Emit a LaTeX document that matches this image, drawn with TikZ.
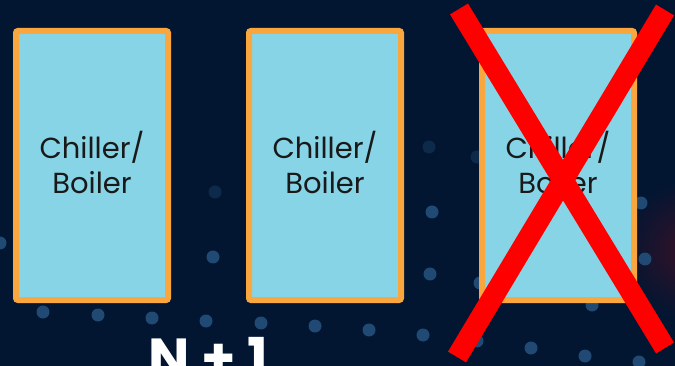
\documentclass[tikz,border=0pt]{standalone}
\usepackage{fontspec}
\setmainfont{Poppins}
\usetikzlibrary{shadings}
\definecolor{bgnavy}{HTML}{021632}
\definecolor{boxfill}{HTML}{87D4E6}
\definecolor{boxedge}{HTML}{F9A63E}
\definecolor{dotblue}{HTML}{204A73}
\definecolor{dotfaint}{HTML}{0E2A4A}
\definecolor{xred}{HTML}{FF0000}
\tikzset{
  unitbox/.style={draw=boxedge, fill=boxfill, line width=6pt, rounded corners=2pt,
    minimum width=152pt, minimum height=269pt, inner sep=0pt},
  unittext/.style={align=center, inner sep=0pt, text=black!90, font=\fontsize{29}{35}\selectfont},
  bgdot/.style={fill=dotblue},
  faintdot/.style={fill=dotfaint},
  crossline/.style={draw=xred, line width=21pt}
}
\begin{document}
\begin{tikzpicture}[x=1pt,y=-1pt]
\fill[bgnavy] (0,0) rectangle (675,366);
\useasboundingbox (0,0) rectangle (675,366);
% faint reddish glow at right
\shade[inner color=red!35!bgnavy, outer color=bgnavy, opacity=0.6] (690,250) circle (70);
% background dots
\foreach \x/\y in {43/312, 98/315, 152/318, 206/321, 261/323, 315/326, 369/330, 423/335, 477/341, 531/348, 585/356, 639/362,
  213/257, 432/212, 430/274, 641/203, 645/259, 480/283, 592/305, 0/243}
  \fill[bgdot] (\x,\y) circle (6.5);
\foreach \x/\y in {215/192, 429/147, 477/157}
  \fill[faintdot] (\x,\y) circle (6.5);
% units
\node[unitbox] (u1) at (92,165.5) {};
\node[unitbox] (u2) at (325,165.5) {};
\node[unitbox] (u3) at (558,165.5) {};
\node[unittext, yshift=3pt] (t1) at (u1) {Chiller/\\Boiler};
\node[unittext, yshift=3pt] (t2) at (u2) {Chiller/\\Boiler};
\node[unittext, yshift=3pt] (t3) at (u3) {Chiller/\\Boiler};
% red cross over third unit
\coordinate (xa) at (459,9);
\coordinate (xb) at (665,348);
\coordinate (xc) at (665,10);
\coordinate (xd) at (457,357);
\draw[crossline] (xa) -- (xb);
\draw[crossline] (xc) -- (xd);
% label
\node[anchor=base, text=white, font=\fontsize{55}{55}\selectfont\bfseries, inner sep=0pt] (lbl) at (208,377) {N + 1};
\end{tikzpicture}
\end{document}
